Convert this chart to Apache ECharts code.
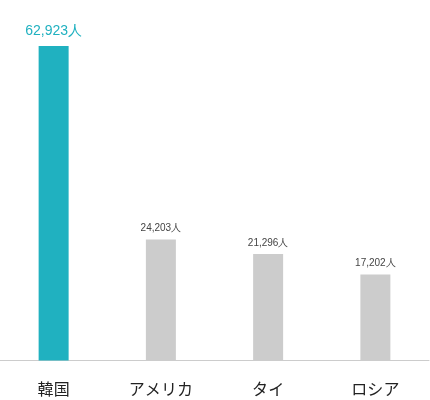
<!DOCTYPE html>
<html><head><meta charset="utf-8">
<script src="https://cdn.jsdelivr.net/npm/echarts@6/dist/echarts.min.js"></script>
<style>html,body{margin:0;padding:0;background:#fff}#c{width:430px;height:400px}</style>
</head><body><div id="c"></div>
<script>
const categories = ['韓国', 'アメリカ', 'タイ', 'ロシア'];
const values = [62923, 24203, 21296, 17202];
const highlightIndex = 0;

const chart = echarts.init(document.getElementById('c'));
const data = values.map((v, i) => ({
  value: v,
  itemStyle: { color: i === highlightIndex ? '#20b1c0' : '#cccccc' },
  label: i === highlightIndex
    ? { fontSize: 14, color: '#20b1c0', distance: 8 }
    : { fontSize: 10, color: '#444444', distance: 6 }
}));
chart.setOption({
  animation: false,
  grid: { left: 0, right: 1, top: 46, bottom: 39.5 },
  xAxis: {
    type: 'category', data: categories,
    axisLine: { lineStyle: { color: '#cccccc', width: 1 } },
    axisTick: { show: false },
    axisLabel: { fontSize: 16, color: '#222222', margin: 20, fontFamily: 'Noto Sans CJK JP' }
  },
  yAxis: { type: 'value', min: 0, max: values[0], show: false, splitLine: { show: false } },
  series: [{
    type: 'bar', data: data, barWidth: 30,
    label: {
      show: true, position: 'top', fontFamily: 'Liberation Sans',
      formatter: p => p.value.toLocaleString('en-US') + '人'
    }
  }]
});
</script></body></html>
